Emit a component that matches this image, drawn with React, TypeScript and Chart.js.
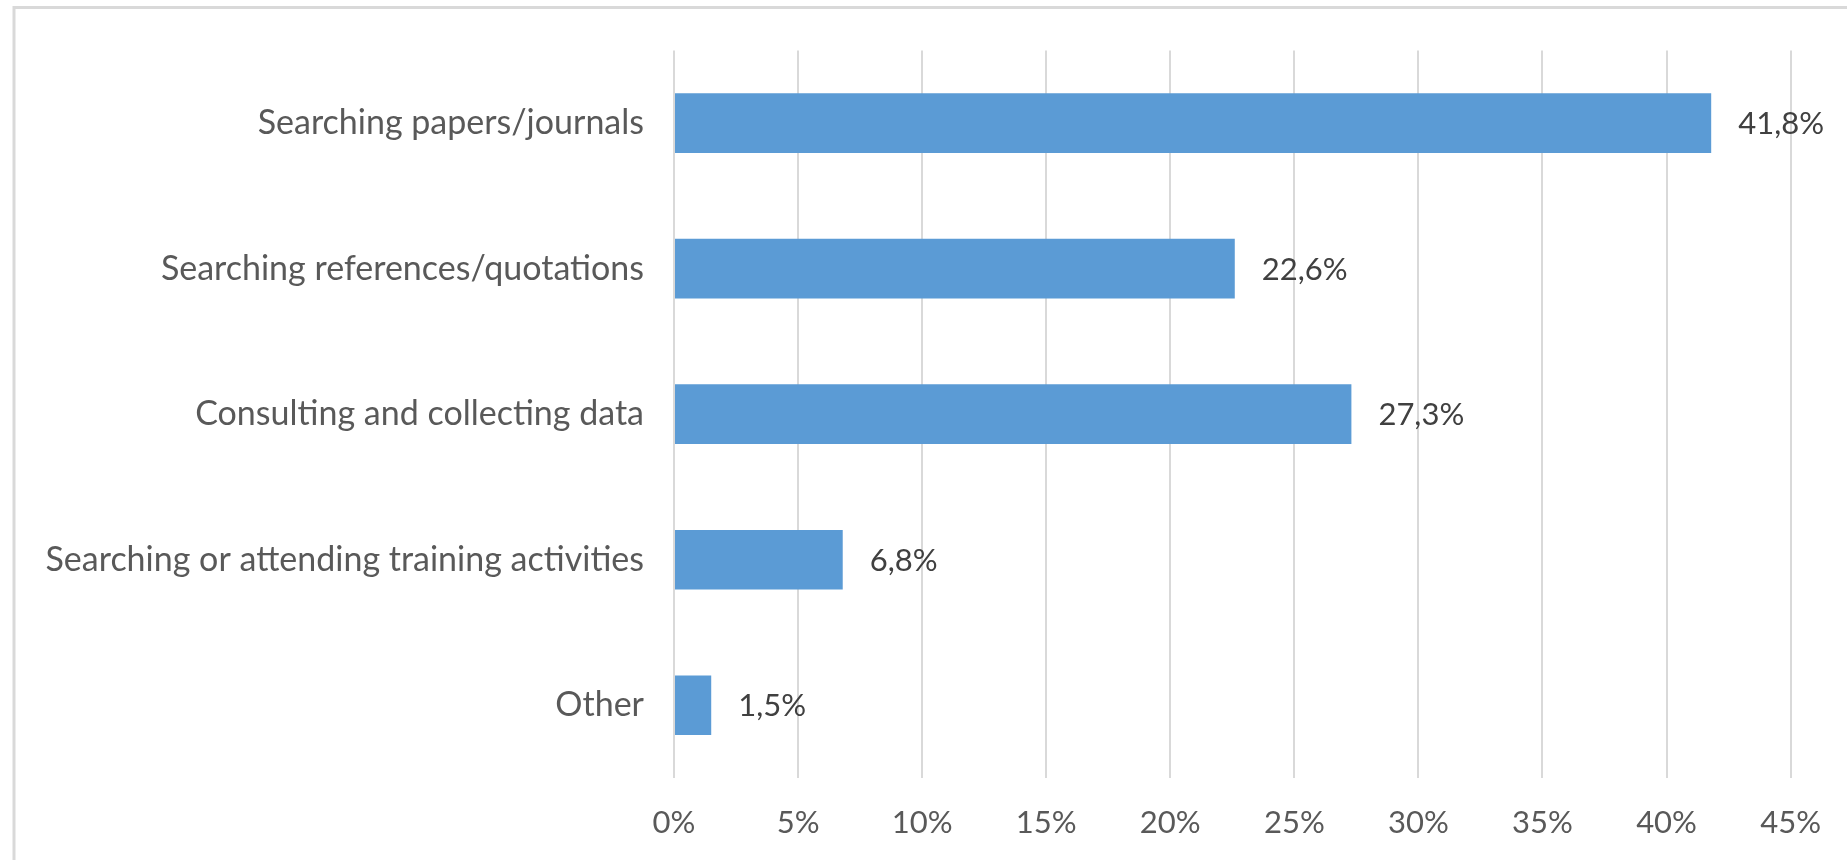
import React, { useEffect, useRef } from "react";
import { Chart, registerables } from "chart.js";

Chart.register(...registerables);

const categories = [
  "Searching papers/journals",
  "Searching references/quotations",
  "Consulting and collecting data",
  "Searching or attending training activities",
  "Other",
];
const values = [41.8, 22.6, 27.3, 6.8, 1.5];
const xTicks = [0, 5, 10, 15, 20, 25, 30, 35, 40, 45];

const FONT = "Lato, 'Noto Sans', sans-serif";

const framePlugin = {
  id: "frame",
  beforeDraw(chart: any) {
    const ctx = chart.ctx;
    ctx.save();
    ctx.fillStyle = "#ffffff";
    ctx.fillRect(0, 0, chart.width, chart.height);
    ctx.strokeStyle = "#d9d9d9";
    ctx.lineWidth = 3;
    ctx.beginPath();
    ctx.moveTo(14, chart.height);
    ctx.lineTo(14, 7.5);
    ctx.lineTo(chart.width, 7.5);
    ctx.stroke();
    ctx.restore();
  },
};

const valueLabelPlugin = {
  id: "valueLabels",
  afterDatasetsDraw(chart: any) {
    const ctx = chart.ctx;
    const meta = chart.getDatasetMeta(0);
    ctx.save();
    ctx.font = `31px ${FONT}`;
    ctx.fillStyle = "#404040";
    ctx.textAlign = "left";
    ctx.textBaseline = "middle";
    meta.data.forEach((el: any, i: number) => {
      const v = chart.data.datasets[0].data[i] as number;
      const txt = v.toFixed(1).replace(".", ",") + "%";
      ctx.fillText(txt, el.x + 27, el.y + 1);
    });
    ctx.restore();
  },
};

export default function App() {
  const ref = useRef<HTMLCanvasElement | null>(null);
  useEffect(() => {
    if (!ref.current) return;
    const chart = new Chart(ref.current, {
      type: "bar",
      data: {
        labels: categories,
        datasets: [
          {
            data: values,
            backgroundColor: "#5b9bd5",
            borderWidth: 0,
            categoryPercentage: 1,
            barPercentage: 0.41,
          },
        ],
      },
      options: {
        indexAxis: "y",
        responsive: false,
        animation: false,
        events: [],
        layout: { padding: { left: 0, top: 48, right: 56, bottom: 0 } },
        plugins: {
          legend: { display: false },
          tooltip: { enabled: false },
        },
        scales: {
          x: {
            type: "linear",
            min: 0,
            max: 45,
            afterBuildTicks(scale: any) {
              scale.ticks = xTicks.map((v) => ({ value: v }));
            },
            afterFit(scale: any) {
              scale.height = 82;
            },
            grid: { color: "#d9d9d9", lineWidth: 2, drawTicks: false },
            border: { display: false },
            ticks: {
              padding: 26,
              color: "#595959",
              font: { family: FONT, size: 31 },
              callback: (v: any) => v + "%",
            },
          },
          y: {
            afterFit(scale: any) {
              scale.width = 674;
            },
            grid: { display: false, drawTicks: false },
            border: { display: false },
            ticks: {
              padding: 30,
              color: "#595959",
              font: { family: FONT, size: 34 },
            },
          },
        },
      },
      plugins: [framePlugin, valueLabelPlugin],
    });
    return () => chart.destroy();
  }, []);
  return (
    <div style={{ position: "absolute", left: 0, top: 0, width: 1847, height: 860 }}>
      <canvas ref={ref} width={1847} height={860} style={{ display: "block" }} />
    </div>
  );
}
